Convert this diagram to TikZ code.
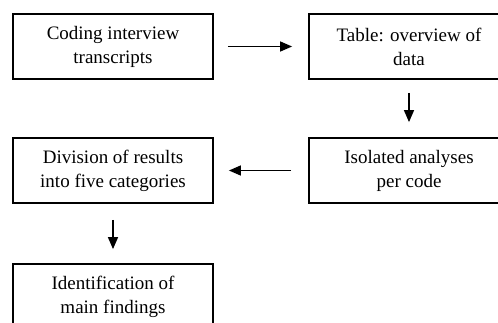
\documentclass[tikz,border=0pt]{standalone}
\usepackage{fontspec}
\setmainfont{Liberation Serif}
\usetikzlibrary{arrows.meta}
\begin{document}
\begin{tikzpicture}[x=1pt,y=-1pt,
  stepbox/.style={draw=black,line width=1.8pt,minimum width=200pt,minimum height=65pt,inner sep=0pt,align=center,
    font=\fontsize{19}{24}\selectfont},
  flow/.style={line width=1.4pt,-{Triangle[length=12pt,width=10pt]}}]
\useasboundingbox (0,0) rectangle (498,322);
\clip (0,0) rectangle (498,322);
\fill[white] (0,0) rectangle (498,322);
\node[stepbox] (a) at (113,46.5) {Coding interview\\transcripts};
\node[stepbox] (b) at (409,46.5) {Table: overview of\\data};
\node[stepbox] (c) at (409,170.5) {Isolated analyses\\per code};
\node[stepbox] (d) at (113,170.5) {Division of results\\into five categories};
\node[stepbox] (e) at (113,296.5) {Identification of\\main findings};
\draw[flow] ([xshift=14pt]a.east) -- ([xshift=-16pt]b.west);
\draw[flow] ([yshift=-13pt]b.south) -- ([yshift=15pt]c.north);
\draw[flow] ([xshift=-17pt]c.west) -- ([xshift=15pt]d.east);
\draw[flow] ([yshift=-16pt]d.south) -- ([yshift=14pt]e.north);
\end{tikzpicture}
\end{document}
